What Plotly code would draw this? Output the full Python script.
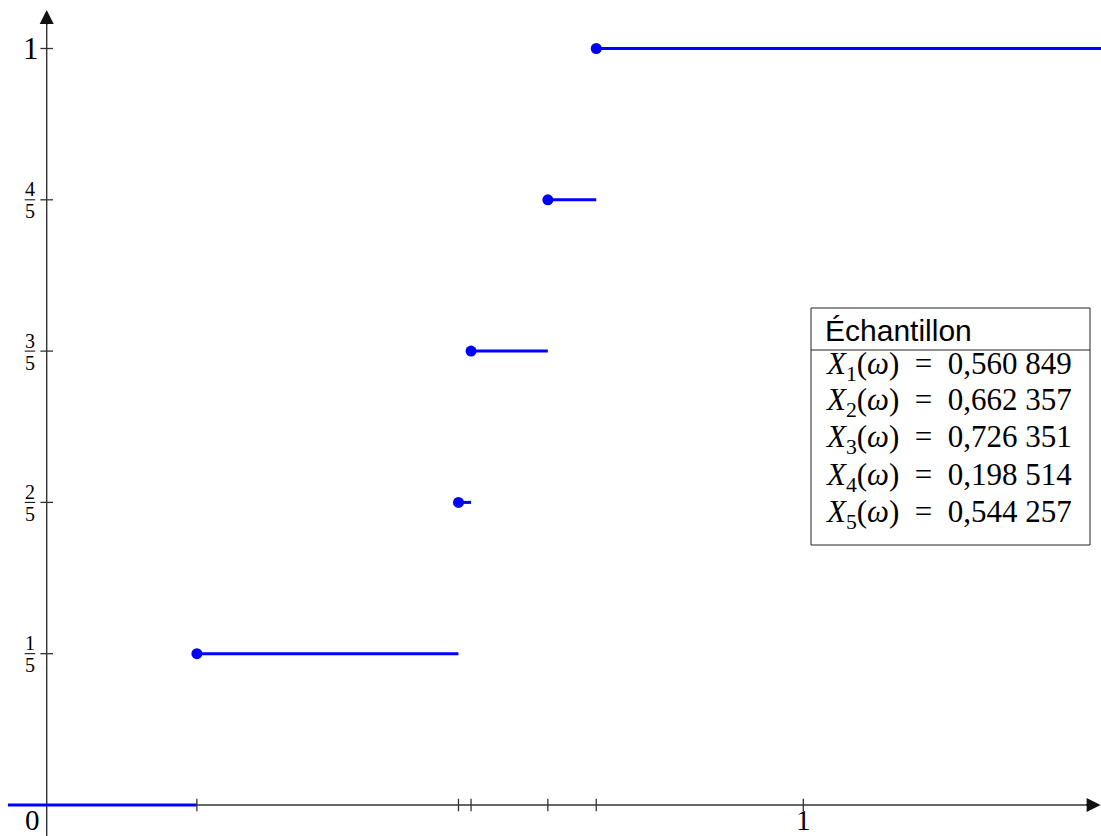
import plotly.graph_objects as go

# ---- data ----
sample_names = ["X1", "X2", "X3", "X4", "X5"]
sample_values = [0.560849, 0.662357, 0.726351, 0.198514, 0.544257]
y_tick_values = [0.2, 0.4, 0.6, 0.8, 1.0]
y_tick_nums = ["1", "2", "3", "4"]
y_tick_den = "5"
x_tick_labels = {0: "0", 1: "1"}
legend_title = "Échantillon"

# drawing extents (axis coordinates)
X_MIN, X_MAX = -0.06172, 1.39347
Y_MIN, Y_MAX = -0.04098, 1.06411
X_LEFT = -0.0512
X_RIGHT = 1.395
X_ARROW = 1.393
Y_ARROW = 1.051

W, H = 1101, 836
BLUE = "#0000FF"
AXC = "#333333"

sorted_vals = sorted(sample_values)
n = len(sorted_vals)

# step segments
xs, ys = [], []
edges = [X_LEFT] + sorted_vals + [X_RIGHT]
for k in range(n + 1):
    xs += [edges[k], edges[k + 1], None]
    ys += [k / n, k / n, None]

fig = go.Figure()

# axis lines (below)
shapes = [
    dict(type="line", xref="x", yref="y", x0=X_LEFT, x1=X_ARROW - 0.008, y0=0, y1=0,
         line=dict(color=AXC, width=1.4), layer="below"),
    dict(type="line", xref="x", yref="y", x0=0, x1=0, y0=Y_MIN, y1=Y_ARROW - 0.008,
         line=dict(color=AXC, width=1.4), layer="below"),
]

fig.add_trace(go.Scatter(x=xs, y=ys, mode="lines", line=dict(color=BLUE, width=3),
                         hoverinfo="skip", showlegend=False))
fig.add_trace(go.Scatter(x=sorted_vals, y=[(k + 1) / n for k in range(n)], mode="markers",
                         marker=dict(color=BLUE, size=11), showlegend=False))

# ticks
fig.add_trace(go.Scatter(x=sorted_vals + [1.0], y=[0] * (n + 1), mode="markers",
                         marker=dict(symbol="line-ns", size=9,
                                     line=dict(color=AXC, width=1.3)),
                         hoverinfo="skip", showlegend=False))
fig.add_trace(go.Scatter(x=[0] * len(y_tick_values), y=y_tick_values, mode="markers",
                         marker=dict(symbol="line-ew", size=9,
                                     line=dict(color=AXC, width=1.3)),
                         hoverinfo="skip", showlegend=False))

annotations = []
# arrow heads
annotations.append(dict(x=X_ARROW, y=0, xref="x", yref="y", ax=-16, ay=0, text="",
                        showarrow=True, arrowhead=2, arrowsize=2.0, arrowwidth=1.4,
                        arrowcolor="#111111"))
annotations.append(dict(x=0, y=Y_ARROW, xref="x", yref="y", ax=0, ay=16, text="",
                        showarrow=True, arrowhead=2, arrowsize=2.0, arrowwidth=1.4,
                        arrowcolor="#111111"))

SERIF = "Liberation Serif, Times New Roman, serif"
SANS = "Liberation Sans, Arial, sans-serif"

# x tick labels
annotations.append(dict(x=0, y=0, xref="x", yref="y", text=x_tick_labels[0], showarrow=False,
                        xanchor="center", yanchor="middle", xshift=-14, yshift=-14.5,
                        font=dict(family=SERIF, size=29, color="black")))
annotations.append(dict(x=1, y=0, xref="x", yref="y", text=x_tick_labels[1], showarrow=False,
                        xanchor="center", yanchor="middle", xshift=0, yshift=-14.5,
                        font=dict(family=SERIF, size=29, color="black")))
# y tick labels
for k, v in enumerate(y_tick_values[:-1]):
    annotations.append(dict(x=0, y=v, xref="x", yref="y", text=y_tick_nums[k], showarrow=False,
                            xanchor="center", yanchor="middle", xshift=-16.5, yshift=10.5,
                            font=dict(family=SERIF, size=20, color="black")))
    annotations.append(dict(x=0, y=v, xref="x", yref="y", text=y_tick_den, showarrow=False,
                            xanchor="center", yanchor="middle", xshift=-16.5, yshift=-11.5,
                            font=dict(family=SERIF, size=20, color="black")))
    shapes.append(dict(type="line", xref="x", yref="y", xsizemode="pixel", xanchor=0,
                       x0=-22, x1=-11.5, y0=v, y1=v, line=dict(color="black", width=1)))
annotations.append(dict(x=0, y=1.0, xref="x", yref="y", text="1", showarrow=False,
                        xanchor="center", yanchor="middle", xshift=-16, yshift=0,
                        font=dict(family=SERIF, size=31, color="black")))

# sample box
def px(xp):
    return xp / W

def py(yp):
    return 1 - yp / H

BOX_L, BOX_R, BOX_T, BOX_SEP, BOX_B = 811, 1090, 308, 350, 545
shapes.append(dict(type="rect", xref="paper", yref="paper", x0=px(BOX_L), x1=px(BOX_R),
                   y0=py(BOX_B), y1=py(BOX_T), line=dict(color="#222222", width=1),
                   fillcolor="white", layer="above"))
shapes.append(dict(type="line", xref="paper", yref="paper", x0=px(BOX_L), x1=px(BOX_R),
                   y0=py(BOX_SEP), y1=py(BOX_SEP), line=dict(color="#222222", width=1)))
annotations.append(dict(x=px(823), y=py(330), xref="paper", yref="paper", text=legend_title,
                        showarrow=False, xanchor="left", yanchor="middle",
                        font=dict(family=SANS, size=30, color="black")))

NB = "\u00a0"
def fmt(v):
    s = f"{v:.6f}".replace(".", ",")
    return s[:5] + NB + s[5:]

for k, (name, v) in enumerate(zip(sample_names, sample_values)):
    txt = f"<i>X</i><sub>{name[1:]}</sub>(<i>ω</i>){NB}{NB}={NB}{NB}{fmt(v)}"
    annotations.append(dict(x=px(823), y=py(365.5 + 37 * k), xref="paper", yref="paper",
                            text=txt, showarrow=False, xanchor="left", yanchor="middle",
                            font=dict(family=SERIF, size=31, color="black")))

fig.update_layout(
    width=W, height=H,
    margin=dict(l=0, r=0, t=0, b=0, pad=0),
    paper_bgcolor="white", plot_bgcolor="white",
    xaxis=dict(range=[X_MIN, X_MAX], visible=False, fixedrange=True),
    yaxis=dict(range=[Y_MIN, Y_MAX], visible=False, fixedrange=True),
    shapes=shapes, annotations=annotations, showlegend=False,
)

fig.write_html("out.html", config={"displayModeBar": False},
               post_script="document.body.style.margin='0';document.body.style.overflow='hidden';")
